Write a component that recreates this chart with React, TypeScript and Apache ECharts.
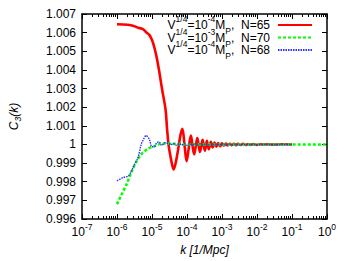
import React, { useEffect, useRef } from 'react';
import * as echarts from 'echarts';

// k [1/Mpc] and C3(k) for each curve
const redK = [1e-6, 2e-6, 3e-6, 4e-6, 5e-6, 6e-6, 7e-6, 8.4e-6, 1e-5, 1.15e-5, 1.35e-5, 1.58e-5, 1.95e-5, 2.44e-5, 2.7e-5, 3.0e-5, 3.5e-5, 4.15e-5, 4.8e-5, 5.6e-5, 6.5e-5, 7.4e-5, 8.5e-5, 9.75e-5, 1.12e-4, 1.29e-4, 1.43e-4, 1.6e-4, 1.78e-4, 1.97e-4, 2.15e-4, 2.34e-4, 2.56e-4, 2.79e-4, 3.0e-4, 3.24e-4, 3.7e-4, 4.2e-4, 4.8e-4, 5.4e-4, 6.1e-4, 6.9e-4, 7.8e-4, 8.8e-4, 1.0e-3, 1.13e-3, 1.28e-3, 1.45e-3, 1.65e-3, 1.9e-3, 2.2e-3, 2.5e-3, 2.9e-3, 3.4e-3, 4e-3, 4.7e-3, 5.5e-3, 6.5e-3, 8e-3, 1e-2, 1.25e-2, 1.6e-2, 2e-2, 3e-2, 5e-2, 0.1];
const redC = [1.00645, 1.00642, 1.00636, 1.00626, 1.00622, 1.00613, 1.006, 1.00588, 1.0056, 1.00525, 1.0047, 1.00401, 1.00294, 1.00187, 1.00081, 0.99992, 0.9992, 0.99866, 0.99905, 0.99975, 1.0005, 1.00084, 0.99997, 0.9991, 0.99979, 1.00048, 0.99997, 0.99947, 0.9999, 1.00034, 0.99997, 0.9996, 0.99992, 1.00025, 0.99996, 0.99967, 1.0002, 0.99974, 1.00014, 0.99984, 1.0001, 0.99988, 1.00008, 0.9999, 1.00006, 0.99994, 1.00005, 0.99995, 1.00004, 0.99996, 1.00004, 0.99996, 1.00003, 0.99997, 1.00003, 0.99997, 1.00002, 0.99998, 1.00002, 0.99998, 1.00001, 0.99999, 1.00001, 0.99999, 1.00001, 1.0];

const greenK = [1e-6, 1.36e-6, 1.88e-6, 2.6e-6, 3.56e-6, 4.9e-6, 7.5e-6, 1.15e-5, 1.95e-5, 3e-5, 4e-5, 6e-5, 1e-4, 1e-3, 1e-2, 0.1, 1];
const greenC = [0.9968, 0.99733, 0.99787, 0.99853, 0.99908, 0.99947, 0.99976, 0.99991, 1.00005, 1.00005, 1.00004, 1.00002, 1.00001, 1.0, 1.0, 1.0, 1.0];

const blueK = [1e-6, 1.51e-6, 2.1e-6, 2.6e-6, 3.2e-6, 4e-6, 4.9e-6, 5.8e-6, 6.8e-6, 8.4e-6, 9.9e-6, 1.17e-5, 1.37e-5, 1.59e-5, 1.89e-5, 2.3e-5, 3e-5, 3.5e-5, 4e-5, 5e-5, 6e-5, 7e-5, 8.5e-5, 1e-4, 1.2e-4, 1.4e-4, 1.7e-4, 2e-4, 2.4e-4, 2.8e-4, 3.3e-4, 4e-4, 5e-4, 6e-4, 7e-4, 8.5e-4, 1e-3, 1.3e-3, 1.6e-3, 2e-3, 2.5e-3, 3.2e-3, 4e-3, 5e-3, 7e-3, 1e-2, 1.5e-2, 2e-2, 3e-2, 5e-2, 0.1];
const blueC = [0.99805, 0.99823, 0.99831, 0.99858, 0.99894, 0.9993, 1.0, 1.0003, 1.00048, 1.00027, 0.99988, 0.99988, 1.00009, 1.00014, 0.99995, 1.00009, 1.00005, 0.99998, 1.00006, 0.99996, 1.00005, 0.99997, 1.00004, 0.99996, 1.00005, 0.99996, 1.00004, 0.99997, 1.00004, 0.99996, 1.00004, 0.99997, 1.00003, 0.99997, 1.00003, 0.99997, 1.00003, 0.99998, 1.00002, 0.99998, 1.00002, 0.99998, 1.00002, 0.99999, 1.00001, 0.99999, 1.00001, 1.0, 1.0, 1.0, 1.0];

const seriesKeys = ['red', 'green', 'blue'];
const seriesLabels = [
  '{n|V}{sup|1/4}{n|=10}{sup|-4}{n|M}{sub|P}{n|,  N=65}',
  '{n|V}{sup|1/4}{n|=10}{sup|-3}{n|M}{sub|P}{n|,  N=70}',
  '{n|V}{sup|1/4}{n|=10}{sup|-4}{n|M}{sub|P}{n|,  N=68}',
];

const xMin = 1e-7;
const xMax = 1;
const yMin = 0.996;
const yMax = 1.007;
const yStep = 0.001;

const minorTicks: number[] = [];
for (let e = -7; e <= -1; e++) {
  for (let m = 2; m <= 9; m++) minorTicks.push(m * Math.pow(10, e));
}

const FONT = 'Liberation Sans';

const zip = (k: number[], c: number[]) => k.map((v, i) => [v, c[i]]);

export default function App() {
  const ref = useRef<HTMLDivElement>(null);
  useEffect(() => {
    const chart = echarts.init(ref.current!, null, { renderer: 'svg' });
    const axisLine = { show: true, lineStyle: { color: '#000', width: 1.5 } };
    const tickStyle = { color: '#000', width: 1 };
    const baseX = {
      type: 'log' as const,
      logBase: 10,
      min: xMin,
      max: xMax,
      interval: 1,
      splitLine: { show: false },
      minorTick: { show: false },
    };
    const baseY = {
      type: 'value' as const,
      min: yMin,
      max: yMax,
      interval: yStep,
      splitLine: { show: false },
    };
    const legendRich = {
      n: { fontSize: 12, lineHeight: 21, fontFamily: FONT, color: '#000' },
      sup: { fontSize: 8.5, lineHeight: 8, verticalAlign: 'top', fontFamily: FONT, color: '#000' },
      sub: { fontSize: 8.5, lineHeight: 14, verticalAlign: 'bottom', fontFamily: FONT, color: '#000' },
    };
    chart.setOption({
      animation: false,
      backgroundColor: '#fff',
      grid: { left: 76, top: 14, right: 23, bottom: 41, containLabel: false },
      legend: {
        orient: 'vertical',
        right: 37,
        top: 14.5,
        align: 'right',
        itemWidth: 34,
        itemHeight: 8,
        itemGap: -8.5,
        padding: 0,
        data: seriesKeys,
        itemStyle: { opacity: 0, borderWidth: 0 },
        formatter: (name: string) => seriesLabels[seriesKeys.indexOf(name)],
        textStyle: { fontSize: 12, fontFamily: FONT, color: '#000', padding: [0, 3, 0, 0], rich: legendRich },
      },
      xAxis: [
        {
          ...baseX,
          position: 'bottom',
          name: 'k [1/Mpc]',
          nameLocation: 'middle',
          nameGap: 25,
          nameTextStyle: { fontStyle: 'italic', fontSize: 12, fontFamily: FONT, color: '#000' },
          axisLine,
          axisTick: { show: true, inside: true, length: 5, lineStyle: tickStyle },
          axisLabel: {
            show: true,
            margin: 3,
            formatter: (v: number) => '{n|10}{sup|' + Math.round(Math.log10(v)) + '}',
            rich: {
              n: { fontSize: 12, lineHeight: 20, fontFamily: FONT, color: '#000' },
              sup: { fontSize: 8.5, lineHeight: 9, verticalAlign: 'top', fontFamily: FONT, color: '#000' },
            },
          },
        },
        {
          ...baseX,
          position: 'top',
          axisLine,
          axisTick: { show: true, inside: true, length: 5, lineStyle: tickStyle },
          axisLabel: { show: false },
        },
        {
          ...baseX,
          position: 'bottom',
          axisLine: { show: false },
          axisTick: { show: true, inside: true, length: 3, customValues: minorTicks, lineStyle: tickStyle },
          axisLabel: { show: false },
        },
        {
          ...baseX,
          position: 'top',
          axisLine: { show: false },
          axisTick: { show: true, inside: true, length: 3, customValues: minorTicks, lineStyle: tickStyle },
          axisLabel: { show: false },
        },
      ],
      yAxis: [
        {
          ...baseY,
          position: 'left',
          name: '{i|C}{s|3}{i|(k)}',
          nameLocation: 'middle',
          nameGap: 60,
          nameTextStyle: {
            rich: {
              i: { fontStyle: 'italic', fontSize: 12, lineHeight: 16, fontFamily: FONT, color: '#000' },
              s: { fontStyle: 'italic', fontSize: 8.5, lineHeight: 11, verticalAlign: 'bottom', fontFamily: FONT, color: '#000' },
            },
          },
          axisLine,
          axisTick: { show: true, inside: true, length: 5, lineStyle: tickStyle },
          axisLabel: {
            margin: 6,
            fontSize: 12,
            fontFamily: FONT,
            color: '#000',
            formatter: (v: number) => (Math.abs(v - 1) < 1e-9 ? '1' : v.toFixed(3)),
          },
        },
        {
          ...baseY,
          position: 'right',
          axisLine,
          axisTick: { show: true, inside: true, length: 5, lineStyle: tickStyle },
          axisLabel: { show: false },
        },
      ],
      series: [
        {
          name: 'red',
          type: 'line',
          data: zip(redK, redC),
          showSymbol: false,
          symbol: 'none',
          smooth: 0.35,
          lineStyle: { color: '#ff0000', width: 2.6, type: 'solid' },
          itemStyle: { color: '#ff0000' },
        },
        {
          name: 'green',
          type: 'line',
          data: zip(greenK, greenC),
          showSymbol: false,
          symbol: 'none',
          smooth: 0.3,
          lineStyle: { color: '#00ff00', width: 2.6, type: [3, 2] },
          itemStyle: { color: '#00ff00' },
        },
        {
          name: 'blue',
          type: 'line',
          data: zip(blueK, blueC),
          showSymbol: false,
          symbol: 'none',
          smooth: 0.3,
          lineStyle: { color: '#3030ff', width: 1.4, type: [1.5, 1] },
          itemStyle: { color: '#3030ff' },
        },
      ],
    });
    return () => chart.dispose();
  }, []);
  return <div ref={ref} style={{ position: 'fixed', left: 0, top: 0, width: 350, height: 261 }} />;
}
